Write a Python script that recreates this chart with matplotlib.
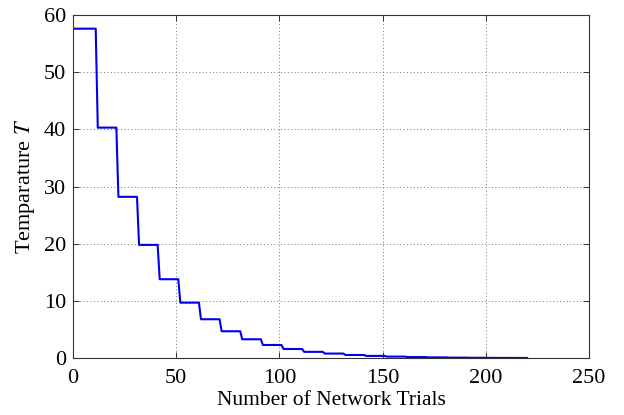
import matplotlib
matplotlib.use("Agg")
import matplotlib.pyplot as plt
import numpy as np

# temperature level held for each block of ~10 network trials
levels = [57.6, 40.3, 28.2, 19.8, 13.8, 9.7, 6.8, 4.7, 3.3, 2.3, 1.6,
          1.1, 0.8, 0.55, 0.39, 0.27, 0.19, 0.13, 0.09, 0.065, 0.045, 0.03]
n_trials = 220
trials = np.arange(1, n_trials + 1)
temps = [levels[max(0, (t - 2) // 10)] for t in trials]

plt.rcParams['font.family'] = ['Liberation Serif', 'DejaVu Serif']
plt.rcParams['mathtext.fontset'] = 'stix'

fig = plt.figure(figsize=(6.24, 4.15), dpi=100)
ax = fig.add_axes([0.117, 0.137, 0.827, 0.827])

ax.plot(trials, temps, color='#0000ee', linewidth=1.5, zorder=3)

ax.set_xlim(0, 250)
ax.set_ylim(0, 60)
ax.set_xticks([0, 50, 100, 150, 200, 250])
ax.set_yticks([0, 10, 20, 30, 40, 50, 60])
ax.grid(True, linestyle=(0, (1, 2.5)), color='#777777', linewidth=0.7)
ax.tick_params(direction='in', top=True, right=True, labelsize=16, length=4,
               width=0.7, color='#333333')
ax.tick_params(axis='x', pad=8)
ax.tick_params(axis='y', pad=5)
for s in ax.spines.values():
    s.set_linewidth(0.8)
    s.set_color('#333333')

ax.set_xlabel("Number of Network Trials", fontsize=15.5, labelpad=2)
ax.set_ylabel("Temparature $T$", fontsize=16, labelpad=5)

fig.savefig("out.png", dpi=100)
